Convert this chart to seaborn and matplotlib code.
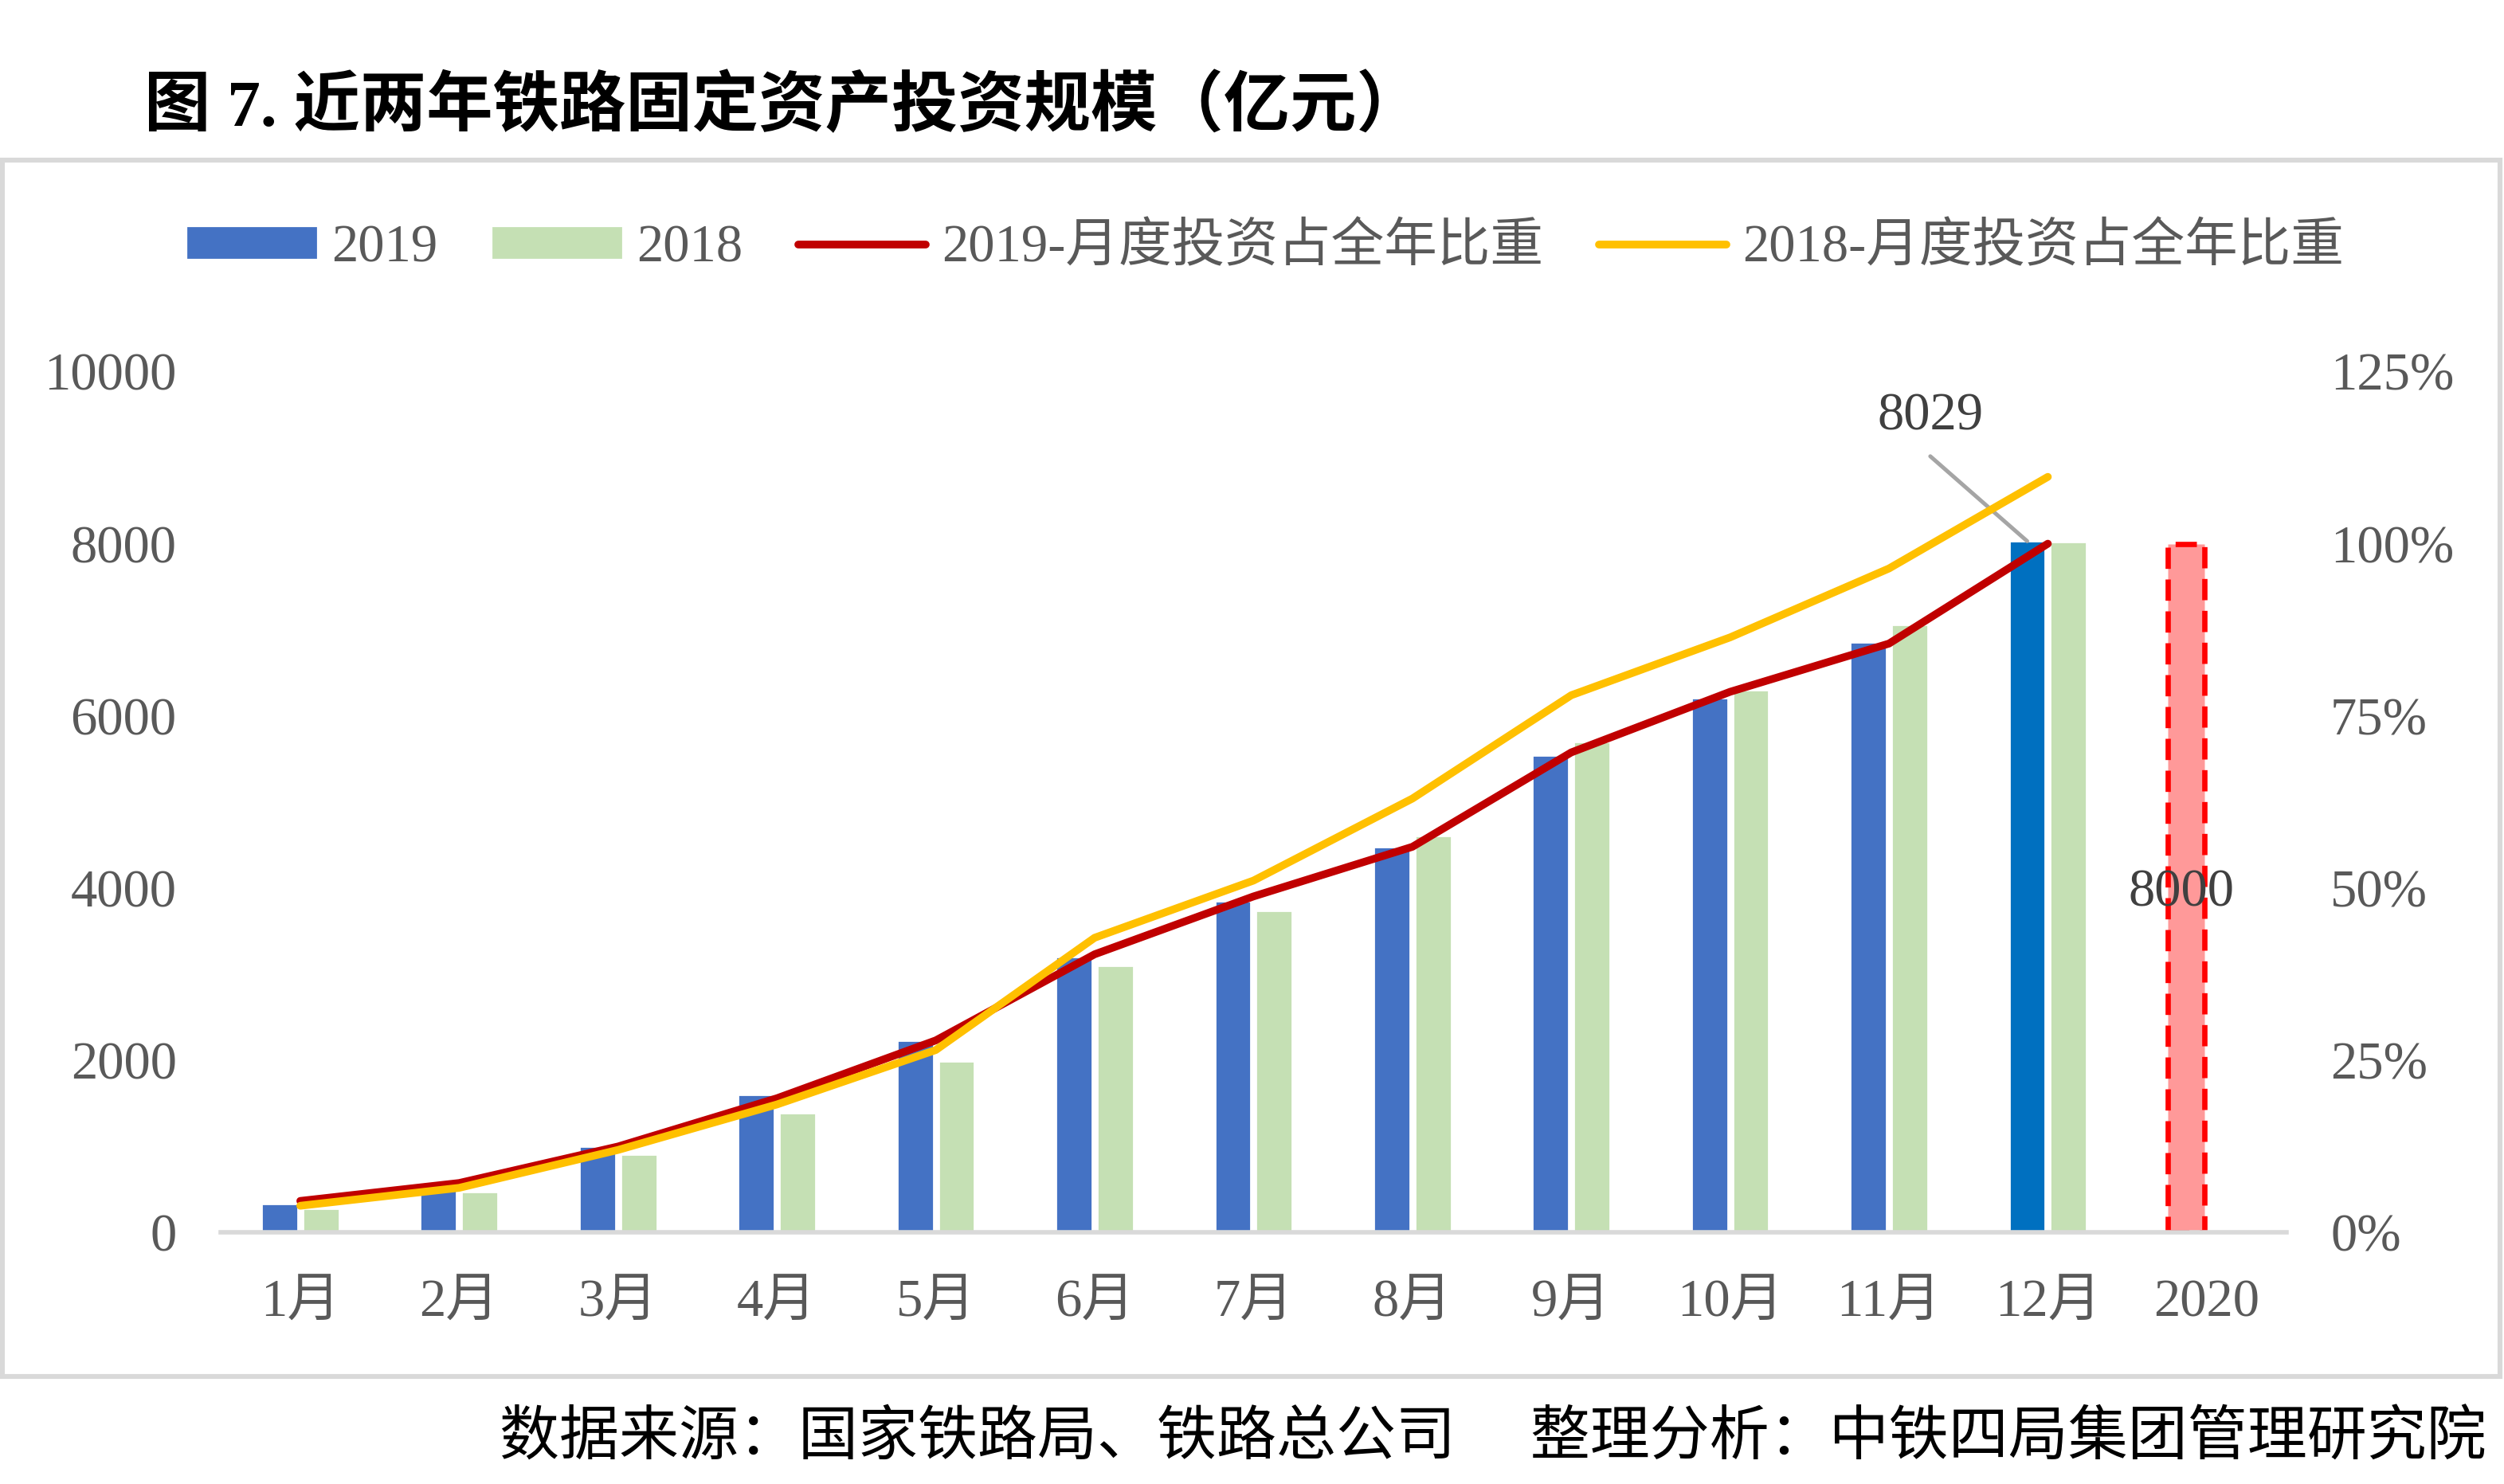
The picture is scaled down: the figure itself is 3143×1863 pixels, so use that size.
import numpy as np
import pandas as pd
import matplotlib
matplotlib.use("Agg")
import matplotlib.pyplot as plt
import matplotlib.patches as mpatches
import matplotlib.lines as mlines
from matplotlib.ticker import FuncFormatter
import seaborn as sns

# dados
months = ["1月", "2月", "3月", "4月", "5月", "6月", "7月", "8月", "9月", "10月", "11月", "12月"]
target_label = "2020"
inv_2019 = [340, 540, 1000, 1600, 2230, 3200, 3850, 4480, 5540, 6210, 6860, 8029]
inv_2018 = [280, 480, 910, 1390, 1990, 3100, 3740, 4610, 5700, 6300, 7060, 8028]
target_2020 = 8000
share_2019 = [0.046, 0.072, 0.125, 0.195, 0.279, 0.404, 0.488, 0.560, 0.697, 0.785, 0.855, 1.000]
share_2018 = [0.039, 0.065, 0.120, 0.186, 0.265, 0.428, 0.511, 0.630, 0.780, 0.864, 0.964, 1.097]
left_ticks = [0, 2000, 4000, 6000, 8000, 10000]
right_ticks = [0, 0.25, 0.5, 0.75, 1.0, 1.25]

title = "图 7. 近两年铁路固定资产投资规模（亿元）"
source = "数据来源：国家铁路局、铁路总公司　 整理分析：中铁四局集团管理研究院"

BLUE = "#4472C4"
BLUE_DARK = "#0070C0"
GREEN = "#C5E0B4"
RED = "#C00000"
YELLOW = "#FFC000"
GRAY_TXT = "#595959"

sns.set_style("white")
plt.rcParams["font.family"] = ["Liberation Serif", "Noto Sans CJK SC", "DejaVu Sans"]

cats = months + [target_label]
df = pd.DataFrame({
    "cat": months + months + [target_label],
    "ano": ["2019"] * len(months) + ["2018"] * len(months) + ["2019"],
    "valor": inv_2019 + inv_2018 + [target_2020],
})

fig = plt.figure(figsize=(3143 / 200, 1863 / 200), dpi=200)
ax = fig.add_axes([0.0882, 0.1694, 0.8248, 0.5803])

sns.barplot(data=df, x="cat", y="valor", hue="ano", order=cats,
            hue_order=["2019", "2018"], palette=[BLUE, GREEN],
            width=0.52, gap=0.115, saturation=1, errorbar=None,
            legend=False, ax=ax)

# destaques: dezembro 2019 e meta 2020
bars19 = ax.containers[0]
bars19[len(months) - 1].set_facecolor(BLUE_DARK)
meta = bars19[len(months)]
meta.set_facecolor("#FF9999")
meta.set_edgecolor("#FF0000")
meta.set_linestyle((0, (4, 2)))
meta.set_linewidth(2.4)

ax.set_xlim(-0.5, len(cats) - 0.5)
ax.set_ylim(0, 10000)
ax.set_yticks(left_ticks)
ax.set_xlabel("")
ax.set_ylabel("")
ax.tick_params(axis="y", length=0, pad=20, labelsize=24, labelcolor=GRAY_TXT)
ax.tick_params(axis="x", length=0, pad=21, labelsize=24, labelcolor=GRAY_TXT)
for s in ["top", "left", "right"]:
    ax.spines[s].set_visible(False)
ax.spines["bottom"].set_color("#D9D9D9")
ax.spines["bottom"].set_linewidth(2)

# linhas de proporção no eixo secundário
ax2 = ax.twinx()
pos = np.arange(len(months))
sns.lineplot(x=pos, y=share_2019, color=RED, linewidth=3.5, ax=ax2)
sns.lineplot(x=pos, y=share_2018, color=YELLOW, linewidth=3.5, ax=ax2)
ax2.set_ylim(0, 1.25)
ax2.set_yticks(right_ticks)
ax2.yaxis.set_major_formatter(FuncFormatter(lambda v, _: f"{v * 100:.0f}%"))
ax2.tick_params(axis="y", length=0, pad=20, labelsize=24, labelcolor=GRAY_TXT)
for s in ax2.spines.values():
    s.set_visible(False)
ax.set_xlim(-0.5, len(cats) - 0.5)

# rótulos
ax.text(10.26, 9480, str(inv_2019[-1]), ha="center", va="center",
        fontsize=24, color="#404040")
ax.annotate("", xy=(len(months) - 1 - 0.13, inv_2019[-1]), xytext=(10.26, 9015),
            arrowprops=dict(arrowstyle="-", color="#A5A5A5", lw=1.8,
                            shrinkA=0, shrinkB=0))
ax.text(len(months) - 0.16, target_2020 / 2 - 60, str(target_2020), ha="center",
        va="center", fontsize=24, color="#404040")

# legenda
handles = [
    mpatches.Patch(color=BLUE, label="2019"),
    mpatches.Patch(color=GREEN, label="2018"),
    mlines.Line2D([], [], color=RED, lw=3.5, label="2019-月度投资占全年比重"),
    mlines.Line2D([], [], color=YELLOW, lw=3.5, label="2018-月度投资占全年比重"),
]
leg = fig.legend(handles=handles, loc="center left", bbox_to_anchor=(0.056, 0.833),
                 ncol=4, frameon=False, fontsize=24, handlelength=2.4,
                 handleheight=0.48, handletextpad=0.3, columnspacing=1.05)
for t in leg.get_texts():
    t.set_color(GRAY_TXT)

# moldura, título e fonte
fig.patches.append(mpatches.Rectangle((0.001, 0.0723), 0.9975, 0.8197,
                                      transform=fig.transFigure, fill=False,
                                      edgecolor="#D9D9D9", linewidth=2.2))
fig.text(0.0575, 0.927, title, fontsize=30, fontweight="bold", color="black",
         ha="left", va="center")
fig.text(0.993, 0.030, source, fontsize=27, color="black", ha="right", va="center")

fig.savefig("out.png", dpi=200)
plt.close(fig)
